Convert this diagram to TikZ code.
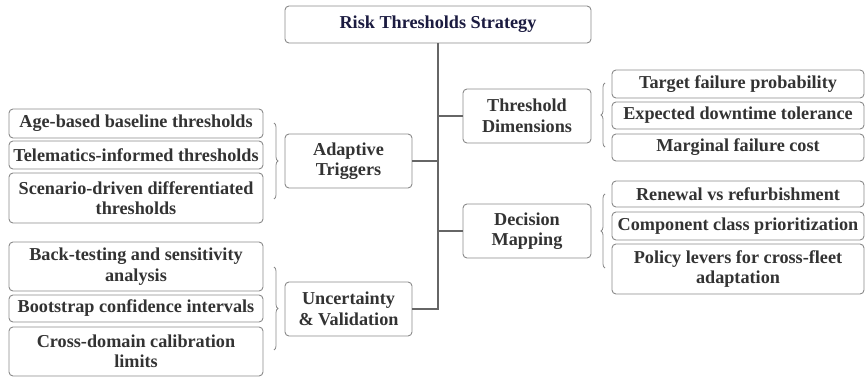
\documentclass[tikz,border=0pt]{standalone}
\usepackage{fontspec}
\setmainfont{Liberation Serif}[BoldFont={Liberation Serif Bold},UprightFont={Liberation Serif}]
\usetikzlibrary{decorations.pathreplacing}
\definecolor{txt}{HTML}{333333}
\definecolor{navy}{HTML}{1B1B40}
\definecolor{edge}{HTML}{8A8A8A}
\definecolor{wire}{HTML}{666666}
\tikzset{
  box/.style={draw=edge, line width=0.9pt, rounded corners=4pt, fill=white,
    align=center, inner sep=0pt, text=txt,
    font=\fontsize{18.2}{20.5}\selectfont\bfseries},
  wirel/.style={draw=wire, line width=1.3pt},
  bracel/.style={draw=edge, line width=0.8pt, decorate,
    decoration={brace, amplitude=4pt}},
}
\begin{document}
\begin{tikzpicture}[x=1pt,y=-1pt]
\useasboundingbox (0,0) rectangle (865,377);
% root
\node[box, text=navy, minimum width=306pt, minimum height=37pt] (root) at (438,24.5) {Risk Thresholds Strategy};
% level 1
\node[box, minimum width=127pt, minimum height=54pt] (adapt) at (348.5,161) {Adaptive\\Triggers};
\node[box, minimum width=127pt, minimum height=54pt] (unc) at (348.5,309) {Uncertainty\\\& Validation};
\node[box, minimum width=128pt, minimum height=54pt] (thr) at (527,116) {Threshold\\Dimensions};
\node[box, minimum width=128pt, minimum height=54pt] (dec) at (527,231) {Decision\\Mapping};
% left children
\node[box, minimum width=254pt, minimum height=29pt] (age) at (136,123.5) {Age-based baseline thresholds};
\node[box, minimum width=254pt, minimum height=28pt] (tel) at (136,155) {Telematics-informed thresholds};
\node[box, minimum width=254pt, minimum height=50pt] (scen) at (136,198) {Scenario-driven differentiated\\thresholds};
\node[box, minimum width=254pt, minimum height=49pt] (back) at (136,266.5) {Back-testing and sensitivity\\analysis};
\node[box, minimum width=254pt, minimum height=27pt] (boot) at (136,308.5) {Bootstrap confidence intervals};
\node[box, minimum width=254pt, minimum height=49pt] (cross) at (136,351.5) {Cross-domain calibration\\limits};
% right children
\node[box, minimum width=252pt, minimum height=28pt] (targ) at (738,84) {Target failure probability};
\node[box, minimum width=252pt, minimum height=27pt] (expd) at (738,115.5) {Expected downtime tolerance};
\node[box, minimum width=252pt, minimum height=27pt] (marg) at (738,147.5) {Marginal failure cost};
\node[box, minimum width=252pt, minimum height=26pt] (renw) at (738,194) {Renewal vs refurbishment};
\node[box, minimum width=252pt, minimum height=28pt] (comp) at (738,226) {Component class prioritization};
\node[box, minimum width=252pt, minimum height=50pt] (poli) at (738,269) {Policy levers for cross-fleet\\adaptation};
% trunk
\draw[wirel] (root.south) |- (unc.east);
\draw[wirel] (adapt.east) -- (adapt.east -| root.south);
\draw[wirel] (thr.west) -- (thr.west -| root.south);
\draw[wirel] (dec.west) -- (dec.west -| root.south);
% braces
\coordinate (b1a) at (274,123); \coordinate (b1b) at (274,199);
\coordinate (b2a) at (274,267); \coordinate (b2b) at (274,350);
\coordinate (b3a) at (605,147); \coordinate (b3b) at (605,83);
\coordinate (b4a) at (605,268); \coordinate (b4b) at (605,194);
\draw[bracel] (b1a) -- (b1b);
\draw[bracel] (b2a) -- (b2b);
\draw[bracel] (b3a) -- (b3b);
\draw[bracel] (b4a) -- (b4b);
\end{tikzpicture}
\end{document}
